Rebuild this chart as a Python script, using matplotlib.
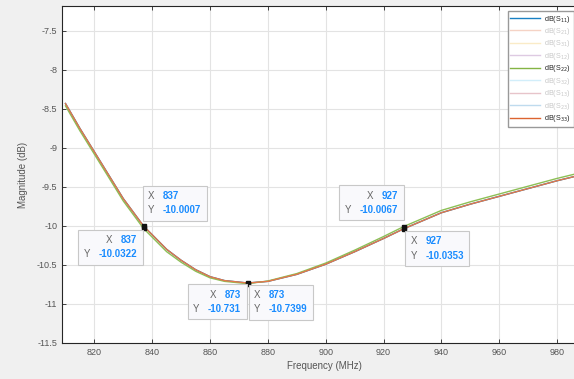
import matplotlib
matplotlib.use("Agg")
import matplotlib.pyplot as plt
from matplotlib.lines import Line2D
from matplotlib.offsetbox import TextArea, HPacker, VPacker, AnnotationBbox

plt.rcParams['font.family'] = ['Liberation Sans', 'DejaVu Sans']

# frequency grid (MHz) and S-parameter magnitudes (dB)
freq = [810, 815, 820, 825, 830, 837, 845, 850, 855, 860, 865, 873,
        880, 890, 900, 910, 920, 927, 940, 950, 960, 970, 980, 990]
s33_db = [-8.43, -8.75, -9.05, -9.35, -9.65, -10.0007, -10.30, -10.44, -10.56,
          -10.65, -10.70, -10.731, -10.71, -10.62, -10.49, -10.33, -10.16,
          -10.0353, -9.83, -9.72, -9.62, -9.52, -9.42, -9.33]
s22_db = [-8.46, -8.78, -9.08, -9.38, -9.68, -10.0322, -10.33, -10.465, -10.58,
          -10.665, -10.71, -10.7399, -10.705, -10.61, -10.475, -10.31, -10.135,
          -10.0067, -9.80, -9.69, -9.59, -9.49, -9.39, -9.30]
s11_db = s33_db  # hidden underneath the S33 trace

legend_names = ['11', '21', '31', '12', '22', '32', '13', '23', '33']
legend_shown = [True, False, False, False, True, False, False, False, True]
legend_colors = ['#0072BD', '#D95319', '#EDB120', '#7E2F8E', '#77AC30',
                 '#4DBEEE', '#A2142F', '#0072BD', '#D95319']

# data tips: (x, y)
tips = [(837, -10.0007), (837, -10.0322), (873, -10.731),
        (873, -10.7399), (927, -10.0067), (927, -10.0353)]

xticks = [820, 840, 860, 880, 900, 920, 940, 960, 980]
yticks = [-11.5, -11, -10.5, -10, -9.5, -9, -8.5, -8, -7.5]

fig = plt.figure(figsize=(5.74, 3.79), dpi=100, facecolor='#f0f0f0')
ax = fig.add_axes([62/574, 36/379, 524/574, 337/379])
ax.set_facecolor('white')

ax.plot(freq, s11_db, color='#0072BD', lw=1.0)
ax.plot(freq, s22_db, color='#8cbf55', lw=1.0)
ax.plot(freq, s33_db, color='#e5784a', lw=1.0)

ax.set_xlim(808.8, 990)
ax.set_ylim(-11.5, -7.18)
ax.set_xticks(xticks)
ax.set_yticks(yticks)
ax.set_yticklabels([f'{v:g}' for v in yticks])
ax.grid(True, color='#e3e3e3', lw=0.8)
ax.set_axisbelow(True)
ax.tick_params(direction='in', length=3, width=0.6, labelsize=6.5,
               colors='#262626', labelcolor='#555555', top=True, right=True)
for sp in ax.spines.values():
    sp.set_color('#262626')
    sp.set_linewidth(0.8)
ax.set_xlabel('Frequency (MHz)', fontsize=7, color='#555555', labelpad=3)
ax.set_ylabel('Magnitude (dB)', fontsize=7, color='#555555', labelpad=6)

# legend (hidden traces appear faded, as MATLAB draws them)
handles = []
labels = []
for name, shown, c in zip(legend_names, legend_shown, legend_colors):
    handles.append(Line2D([], [], color=c, lw=1.0, alpha=0.9 if shown else 0.25))
    labels.append(r'dB(S$_{%s}$)' % name)
leg = ax.legend(handles, labels, loc='upper right', fontsize=5.2,
                bbox_to_anchor=(573.5/574, 1 - 11/379), bbox_transform=fig.transFigure,
                frameon=True, fancybox=False, framealpha=1, edgecolor='#999999',
                handlelength=4.2, labelspacing=0.2, borderpad=0.35, handletextpad=0.5,
                borderaxespad=0)
for txt, shown in zip(leg.get_texts(), legend_shown):
    txt.set_color('#262626' if shown else '#c8c8c8')

# data tips
tip_align = [(0, 0), (1, 1), (1, 1), (0, 1), (1, 0), (0, 1)]
tip_offset = [(4.6, 10.6), (-6.6, -6.6), (-6.6, -6.6), (6.6, -6.6), (-5.6, 11.6), (6.6, -7.6)]
for (tx, ty), al, off in zip(tips, tip_align, tip_offset):
    ax.plot([tx], [ty], marker='s', ms=2.5, color='#111111', zorder=6)
    rows = []
    for lab, val in (('X', f'{tx:g}'), ('Y', f'{ty:g}')):
        rows.append(HPacker(children=[
            TextArea(lab, textprops=dict(color='#666666', fontsize=7)),
            TextArea(val, textprops=dict(color='#1a8cff', fontsize=7, fontweight='bold'))],
            align='baseline', pad=0, sep=6))
    box = VPacker(children=rows, align='right' if al[0] == 1 else 'left', pad=0, sep=3)
    ab = AnnotationBbox(box, (tx, ty), xybox=off, boxcoords='offset pixels',
                        box_alignment=al, pad=0.4, frameon=True,
                        bboxprops=dict(facecolor='#f9f9fc', edgecolor='#c8c8c8', lw=0.8))
    ab.set_zorder(7)
    ax.add_artist(ab)

fig.savefig('out.png', dpi=100, facecolor=fig.get_facecolor())
